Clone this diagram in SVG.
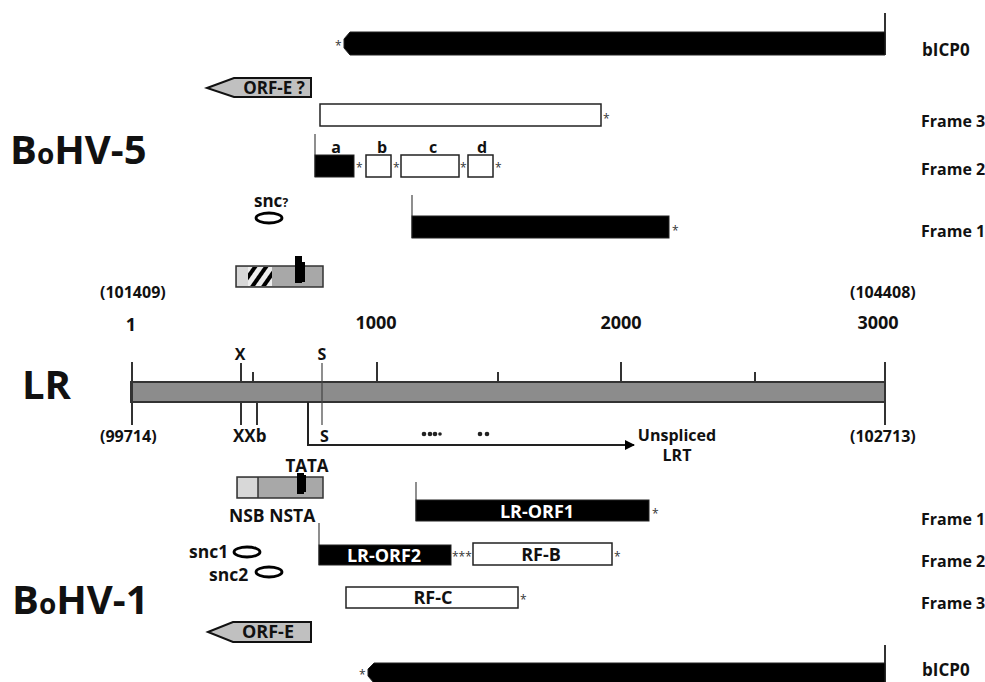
<svg xmlns="http://www.w3.org/2000/svg" width="985" height="682" viewBox="0 0 985 682">
<style>
text{font-family:"Open Sans","Liberation Sans",sans-serif;font-weight:700;fill:#111}
.lbl{font-size:16px}
.m{font-size:17px}
.big{font-size:40px}
.w{fill:#fff;font-size:18px}
.ast{font-size:12px;fill:#333;font-weight:400}
.blk{fill:#000;stroke:#222;stroke-width:1}
.wht{fill:#fff;stroke:#222;stroke-width:1.5}
.ln{stroke:#333;stroke-width:2;fill:none}
.thin{stroke:#444;stroke-width:1.2;fill:none}
.ov{fill:none;stroke:#000;stroke-width:2.8}
</style>
<defs>
<pattern id="hatch" patternUnits="userSpaceOnUse" width="9" height="9" patternTransform="rotate(35)">
<rect width="9" height="9" fill="#eee"/>
<rect width="4" height="9" fill="#000"/>
</pattern>
<marker id="ah" markerWidth="10" markerHeight="10" refX="9" refY="5" orient="auto" markerUnits="userSpaceOnUse" viewBox="0 0 10 10">
<path d="M0,0 L10,5 L0,10 z" fill="#000"/>
</marker>
</defs>

<g id="labels">
<text class="big" x="10" y="164">B<tspan font-size="28">o</tspan>HV-5</text>
<text class="big" x="22" y="399">LR</text>
<text class="big" x="12" y="614">B<tspan font-size="28">o</tspan>HV-1</text>
<text class="m" x="922" y="56">bICP0</text>
<text class="lbl" x="921" y="127">Frame 3</text>
<text class="lbl" x="921" y="175">Frame 2</text>
<text class="lbl" x="921" y="237">Frame 1</text>
<text class="lbl" x="921" y="525">Frame 1</text>
<text class="lbl" x="921" y="567">Frame 2</text>
<text class="lbl" x="921" y="609">Frame 3</text>
<text class="m" x="922" y="676">bICP0</text>
</g>

<g id="bicp0-top">
<line class="ln" x1="885" y1="13" x2="885" y2="55"/>
<polygon class="blk" points="350,32 885,32 885,55 350,55 344,48 344,39"/>
<text class="ast" x="335" y="50">*</text>
</g>
<g id="orfe-q">
<polygon points="207,88 234,78 311,78 311,97 234,97" fill="#c0c0c0" stroke="#111" stroke-width="2"/>
<text x="274" y="94" font-size="17" text-anchor="middle">ORF-E ?</text>
</g>
<g id="frame3-5">
<rect class="wht" x="320" y="104" width="281" height="22"/>
<text class="ast" x="603" y="123">*</text>
</g>
<g id="frame2-5">
<line class="thin" x1="315" y1="134" x2="315" y2="177"/>
<rect class="blk" x="315" y="155" width="39" height="22"/>
<text class="ast" x="356" y="172">*</text>
<rect class="wht" x="366" y="155" width="25" height="22"/>
<text class="ast" x="393" y="172">*</text>
<rect class="wht" x="401" y="155" width="58" height="22"/>
<text class="ast" x="460" y="172">*</text>
<rect class="wht" x="468" y="155" width="25" height="22"/>
<text class="ast" x="495" y="172">*</text>
<text x="336" y="153" font-size="16" text-anchor="middle">a</text>
<text x="382" y="153" font-size="16" text-anchor="middle">b</text>
<text x="433" y="153" font-size="16" text-anchor="middle">c</text>
<text x="482" y="153" font-size="16" text-anchor="middle">d</text>
</g>
<g id="snc-q">
<text x="254" y="207" font-size="17">snc<tspan font-size="12">?</tspan></text>
<ellipse class="ov" cx="269" cy="218" rx="13" ry="5"/>
</g>
<g id="frame1-5">
<line class="thin" x1="412" y1="195" x2="412" y2="238"/>
<rect class="blk" x="412" y="216" width="257" height="22"/>
<text class="ast" x="672" y="235">*</text>
</g>
<g id="promoter-5">
<rect x="236" y="266" width="87" height="21" fill="#a8a8a8" stroke="#333" stroke-width="1.5"/>
<rect x="237" y="267" width="11" height="19" fill="#d8d8d8"/>
<rect x="248" y="267" width="24" height="19" fill="url(#hatch)"/>
<rect x="295" y="256" width="7" height="27" fill="#000"/>
<rect x="301" y="262" width="4" height="20" fill="#000"/>
</g>

<g id="axis">
<text x="100" y="298" font-size="16">(101409)</text>
<text x="850" y="298" font-size="16">(104408)</text>
<text x="131" y="331" font-family="Liberation Serif,serif" font-size="18" text-anchor="middle">1</text>
<text x="376" y="329" text-anchor="middle" font-size="18">1000</text>
<text x="621" y="329" text-anchor="middle" font-size="18">2000</text>
<text x="878" y="329" text-anchor="middle" font-size="18">3000</text>
<rect x="131" y="382" width="754" height="20" fill="#8c8c8c" stroke="#333" stroke-width="2"/>
<line class="ln" x1="132" y1="362" x2="132" y2="425"/>
<line class="ln" x1="885" y1="362" x2="885" y2="425"/>
<line class="ln" x1="241" y1="363" x2="241" y2="382"/>
<line class="ln" x1="253" y1="372" x2="253" y2="382"/>
<line class="ln" x1="377" y1="362" x2="377" y2="382"/>
<line class="ln" x1="498" y1="372" x2="498" y2="382"/>
<line class="ln" x1="621" y1="362" x2="621" y2="382"/>
<line class="ln" x1="755" y1="372" x2="755" y2="382"/>
<line class="thin" x1="322" y1="363" x2="322" y2="425"/>
<line class="ln" x1="241" y1="402" x2="241" y2="425"/>
<line class="ln" x1="257" y1="402" x2="257" y2="425"/>
<text x="240" y="360" font-size="16" text-anchor="middle">X</text>
<text x="322" y="360" font-size="16" text-anchor="middle">S</text>
<text x="233" y="442" font-size="17">XXb</text>
<text x="320" y="442" font-size="16">S</text>
<text x="100" y="442" font-size="16">(99714)</text>
<text x="850" y="442" font-size="16">(102713)</text>
</g>

<g id="connectors">
<polyline points="308,402 308,445 634,445" fill="none" stroke="#222" stroke-width="2" marker-end="url(#ah)"/>
</g>
<g id="lrt">
<circle cx="424" cy="434" r="2.3" fill="#222"/>
<circle cx="430" cy="434" r="2.3" fill="#222"/>
<circle cx="435" cy="434" r="2.3" fill="#222"/>
<circle cx="440" cy="434" r="1.8" fill="#222"/>
<circle cx="480" cy="434" r="2.3" fill="#222"/>
<circle cx="487" cy="434" r="2.3" fill="#222"/>
<text x="677" y="441" font-size="16" text-anchor="middle">Unspliced</text>
<text x="677" y="461" font-size="16" text-anchor="middle">LRT</text>
</g>

<g id="promoter-1">
<text x="307" y="472" font-size="17" text-anchor="middle">TATA</text>
<rect x="237" y="477" width="86" height="21" fill="#a8a8a8" stroke="#333" stroke-width="1.5"/>
<rect x="238" y="478" width="20" height="19" fill="#d8d8d8"/>
<line x1="258" y1="477" x2="258" y2="498" stroke="#333" stroke-width="1.5"/>
<rect x="297" y="473" width="7" height="21" fill="#000"/>
<rect x="303" y="475" width="3" height="17" fill="#000"/>
<text x="229" y="522" font-size="17.5">NSB NSTA</text>
</g>
<g id="lr-orf1">
<line class="thin" x1="416" y1="482" x2="416" y2="521"/>
<rect class="blk" x="416" y="500" width="233" height="21"/>
<text class="w" x="537" y="518" text-anchor="middle">LR-ORF1</text>
<text class="ast" x="652" y="518">*</text>
</g>
<g id="lr-orf2">
<line class="thin" x1="319" y1="523" x2="319" y2="565"/>
<rect class="blk" x="319" y="545" width="132" height="20"/>
<text class="w" x="384" y="562" text-anchor="middle">LR-ORF2</text>
<text class="ast" x="452" y="561">***</text>
</g>
<g id="rf-b">
<rect class="wht" x="473" y="543" width="139" height="22"/>
<text x="541" y="561" font-size="18" text-anchor="middle">RF-B</text>
<text class="ast" x="614" y="561">*</text>
</g>
<g id="snc1">
<text x="189" y="558" font-size="17.5">snc1</text>
<ellipse class="ov" cx="247" cy="552" rx="13" ry="5"/>
</g>
<g id="snc2">
<text x="209" y="581" font-size="17.5">snc2</text>
<ellipse class="ov" cx="269" cy="572" rx="13" ry="5"/>
</g>
<g id="rf-c">
<rect class="wht" x="346" y="587" width="172" height="21"/>
<text x="433" y="604" font-size="18" text-anchor="middle">RF-C</text>
<text class="ast" x="520" y="604">*</text>
</g>
<g id="orfe">
<polygon points="208,632 233,622 311,622 311,642 233,642" fill="#c0c0c0" stroke="#111" stroke-width="2"/>
<text x="268" y="638" font-size="18" text-anchor="middle">ORF-E</text>
</g>
<g id="bicp0-bottom">
<line class="ln" x1="885" y1="645" x2="885" y2="682"/>
<polygon class="blk" points="374,663 885,663 885,683 374,683 368,676 368,669"/>
<text class="ast" x="359" y="679">*</text>
</g>
</svg>
